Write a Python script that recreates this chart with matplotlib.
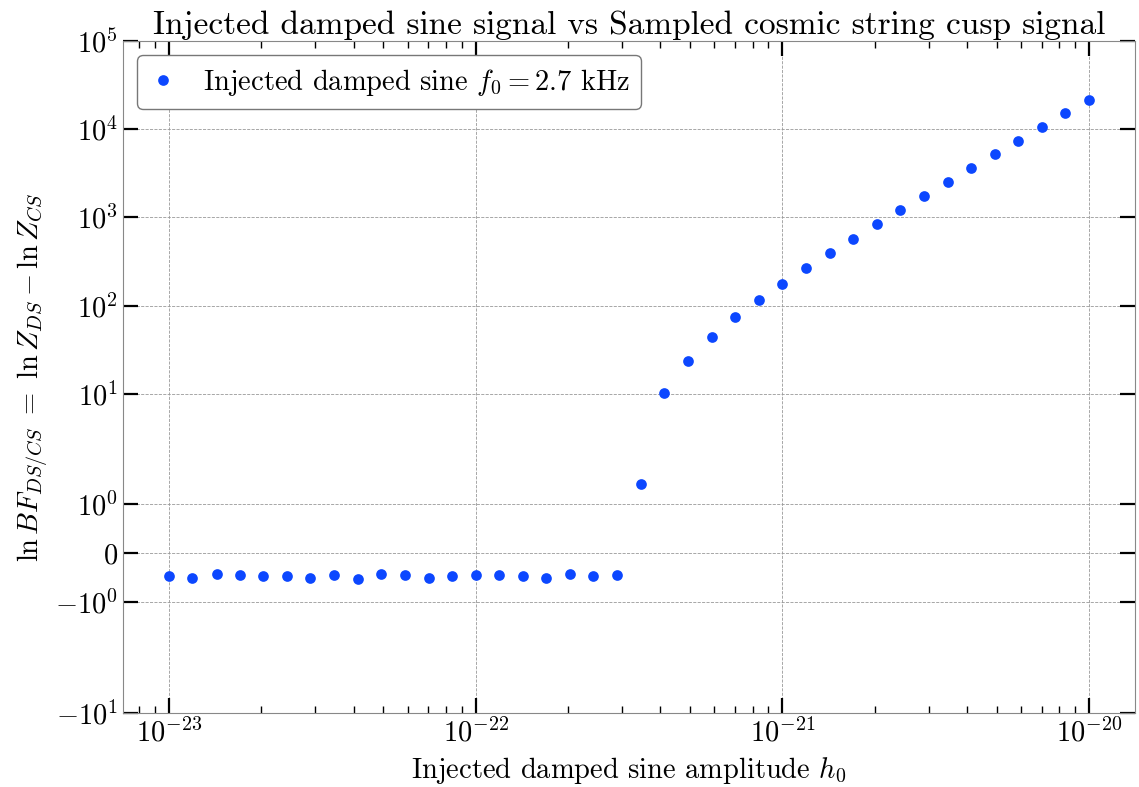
import matplotlib
matplotlib.use("Agg")
import matplotlib.pyplot as plt
from matplotlib.ticker import NullLocator

# amplitudes h0 (13 points per decade)
amplitudes = [1.00e-23, 1.19e-23, 1.43e-23, 1.70e-23, 2.03e-23, 2.42e-23, 2.89e-23,
              3.46e-23, 4.12e-23, 4.92e-23, 5.88e-23, 7.02e-23, 8.38e-23,
              1.00e-22, 1.19e-22, 1.43e-22, 1.70e-22, 2.03e-22, 2.42e-22, 2.89e-22,
              3.46e-22, 4.12e-22, 4.92e-22, 5.88e-22, 7.02e-22, 8.38e-22,
              1.00e-21, 1.19e-21, 1.43e-21, 1.70e-21, 2.03e-21, 2.42e-21, 2.89e-21,
              3.46e-21, 4.12e-21, 4.92e-21, 5.88e-21, 7.02e-21, 8.38e-21,
              1.00e-20]

# ln BF DS/CS
ln_bf = [-0.47, -0.50, -0.43, -0.44, -0.47, -0.47, -0.50, -0.45, -0.53, -0.42,
         -0.44, -0.50, -0.46, -0.45, -0.45, -0.47, -0.50, -0.43, -0.47, -0.44,
         1.42, 10.3, 23.7, 44.2, 73.8, 116, 177, 266, 395, 575,
         837, 1208, 1757, 2514, 3630, 5197, 7420, 10620, 15310, 21540]

plt.rcParams['font.family'] = 'serif'
plt.rcParams['font.serif'] = ['cmr10']
plt.rcParams['mathtext.fontset'] = 'cm'
plt.rcParams['axes.formatter.use_mathtext'] = True
plt.rcParams['axes.unicode_minus'] = True

fig, ax = plt.subplots(figsize=(11.39, 7.87), dpi=100)
fig.subplots_adjust(left=0.108, right=0.9965, top=0.948, bottom=0.094)

ax.plot(amplitudes, ln_bf, 'o', color='#0c47ff', markersize=7.7, markeredgewidth=0,
        label=r'Injected damped sine $f_0=2.7$ kHz')

ax.set_xscale('log')
ax.set_yscale('symlog', linthresh=2)
ax.set_ylim(-10, 1e5)
ax.yaxis.set_minor_locator(NullLocator())

ax.set_title('Injected damped sine signal vs Sampled cosmic string cusp signal', fontsize=24, pad=5)
ax.set_xlabel(r'Injected damped sine amplitude $h_0$', fontsize=20.5, labelpad=6)
ax.set_ylabel(r'$\ln BF_{DS/CS}\ =\ \ln Z_{DS} - \ln Z_{CS}$', fontsize=20.5, labelpad=4)

ax.tick_params(which='both', direction='in', top=True, right=True, labelsize=20.5)
ax.tick_params(which='major', length=11, width=1.6)
ax.tick_params(which='minor', length=5, width=1.0)
for s in ax.spines.values():
    s.set_color('#888888')

ax.grid(True, which='major', linestyle='--', linewidth=0.6, color='#999999')

ax.legend(loc='upper left', fontsize=20.5, frameon=True, fancybox=True,
          edgecolor='#777777', framealpha=1, handlelength=1.0, handletextpad=0.9)

plt.savefig('out.png', dpi=100)
